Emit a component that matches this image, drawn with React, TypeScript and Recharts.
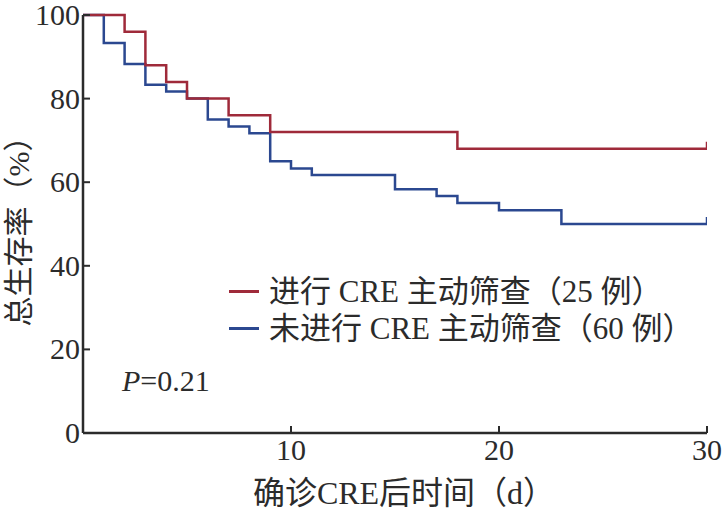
import React from 'react';
import { LineChart, Line, XAxis, YAxis } from 'recharts';

const screenedTimes = [0, 2, 3, 4, 5, 7, 9, 18, 30];
const screenedSurvival = [100, 96, 88, 84, 80, 76, 72, 68, 68];
const unscreenedTimes = [0, 1, 2, 3, 4, 5, 6, 7, 8, 9, 10, 11, 15, 17, 18, 20, 23, 30];
const unscreenedSurvival = [100, 93.3, 88.3, 83.3, 81.7, 80, 75, 73.3, 71.7, 65, 63.3, 61.7, 58.3, 56.7, 55, 53.3, 50, 50];
const xTicks = [10, 20, 30];
const yTicks = [0, 20, 40, 60, 80, 100];
const seriesNames = ['进行 CRE 主动筛查（25 例）', '未进行 CRE 主动筛查（60 例）'];
const xLabel = '确诊CRE后时间（d）';
const yLabel = '总生存率（%）';
const pValue = '0.21';

const RED = '#9F2A3A';
const BLUE = '#2B4890';
const INK = '#2b2b2b';
const FONT = "'Liberation Serif', 'Noto Sans CJK SC', serif";

const screenedData = screenedTimes.map((t, i) => ({ t, s: screenedSurvival[i] }));
const unscreenedData = unscreenedTimes.map((t, i) => ({ t, s: unscreenedSurvival[i] }));

const XTick = (props: any) => {
  const { x, y, payload } = props;
  return (
    <g>
      <line x1={x} x2={x} y1={y} y2={y - 7} stroke={INK} strokeWidth={2} />
      <text x={x} y={y + 27} textAnchor="middle" fill={INK} fontSize={30} fontFamily={FONT}>
        {payload.value}
      </text>
    </g>
  );
};

const YTick = (props: any) => {
  const { x, y, payload } = props;
  return (
    <g>
      <line x1={x} x2={x + 7} y1={y} y2={y} stroke={INK} strokeWidth={2} />
      <text x={x - 3} y={y + 10} textAnchor="end" fill={INK} fontSize={30} fontFamily={FONT}>
        {payload.value}
      </text>
    </g>
  );
};

const censorDot = (len: number) => (props: any) => {
  const { cx, cy, index } = props;
  if (index !== len - 1) return <g key={`d${index}`} />;
  return <line key={`d${index}`} x1={cx} x2={cx} y1={cy} y2={cy - 7} stroke={props.stroke} strokeWidth={2.5} />;
};

export default function App() {
  return (
    <div style={{ position: 'absolute', left: 0, top: 0, width: 723, height: 511, background: '#fff' }}>
      <LineChart width={723} height={511} margin={{ top: 15, right: 16, bottom: 0, left: 0 }}>
        <XAxis
          dataKey="t"
          type="number"
          domain={[0, 30]}
          ticks={xTicks}
          allowDataOverflow
          height={78}
          tickSize={0}
          tickMargin={0}
          tickLine={false}
          axisLine={{ stroke: INK, strokeWidth: 2.5 }}
          tick={<XTick />}
          label={{
            content: (p: any) => {
              const vb = p.viewBox;
              return (
                <text x={vb.x + 321} y={vb.y + 71} textAnchor="middle" fill={INK} fontSize={32} fontFamily={FONT}>
                  {xLabel}
                </text>
              );
            },
          }}
        />
        <YAxis
          type="number"
          domain={[0, 100]}
          ticks={yTicks}
          width={83}
          tickSize={0}
          tickMargin={0}
          tickLine={false}
          axisLine={{ stroke: INK, strokeWidth: 2.5 }}
          tick={<YTick />}
          label={{
            content: (p: any) => {
              const vb = p.viewBox;
              const cx = vb.x + 18;
              const cy = vb.y + vb.height / 2;
              return (
                <text x={cx} y={cy} transform={`rotate(-90 ${cx} ${cy})`} textAnchor="middle" dominantBaseline="central" fill={INK} fontSize={30} fontFamily={FONT}>
                  {yLabel}
                </text>
              );
            },
          }}
        />
        <Line
          data={unscreenedData}
          dataKey="s"
          type="stepAfter"
          stroke={BLUE}
          strokeWidth={2.5}
          dot={censorDot(unscreenedData.length)}
          activeDot={false}
          isAnimationActive={false}
        />
        <Line
          data={screenedData}
          dataKey="s"
          type="stepAfter"
          stroke={RED}
          strokeWidth={2.5}
          dot={censorDot(screenedData.length)}
          activeDot={false}
          isAnimationActive={false}
        />
      </LineChart>
      <div style={{ position: 'absolute', left: 229, top: 273, fontFamily: FONT, fontSize: 31, color: INK, lineHeight: '37px' }}>
        {seriesNames.map((n, i) => (
          <div key={n} style={{ display: 'flex', alignItems: 'center', whiteSpace: 'nowrap' }}>
            <span style={{ display: 'inline-block', width: 30, height: 2.5, background: i === 0 ? RED : BLUE, marginRight: 10 }} />
            <span>{n}</span>
          </div>
        ))}
      </div>
      <div style={{ position: 'absolute', left: 122, top: 364, fontFamily: FONT, fontSize: 30, color: INK, lineHeight: '34px' }}>
        <i>P</i>={pValue}
      </div>
    </div>
  );
}
